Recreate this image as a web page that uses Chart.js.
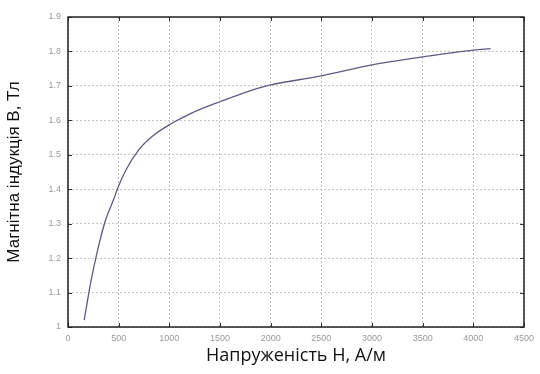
<!DOCTYPE html>
<html>
<head>
<meta charset="utf-8">
<script src="https://cdn.jsdelivr.net/npm/chart.js@4"></script>
<style>
  html, body { margin: 0; padding: 0; background: #fff; }
  #wrap { width: 540px; height: 374px; }
</style>
</head>
<body>
<div id="wrap"><canvas id="id_grafica"></canvas></div>
<script>
// крива намагнічування B(H), значення зчитані з рисунку
const napruzhenist = [160, 225, 290, 370, 450, 500, 580, 700, 830, 1000, 1220, 1500, 1870, 2000, 2500, 3000, 3500, 4000, 4170];
const indukcia = [1.02, 1.13, 1.22, 1.31, 1.37, 1.41, 1.46, 1.515, 1.553, 1.587, 1.621, 1.654, 1.693, 1.703, 1.729, 1.761, 1.784, 1.804, 1.808];

const xMin = 0, xMax = 4500, xStep = 500;
const yMin = 1, yMax = 1.9, yStep = 0.1;

const tituloX = 'Напруженість Н, А/м';
const tituloY = 'Магнітна індукція В, Тл';

const puntos = napruzhenist.map((h, i) => ({ x: h, y: indukcia[i] }));

// рамка та внутрішні штрихи в стилі matlab
const marcoPlugin = {
    id: 'marco',
    afterDraw(chart) {
        const { ctx, chartArea: a, scales } = chart;
        ctx.save();
        ctx.strokeStyle = '#333';
        ctx.lineWidth = 1;
        for (let v = xMin; v <= xMax; v += xStep) {
            const px = Math.round(scales.x.getPixelForValue(v)) + 0.5;
            ctx.beginPath();
            ctx.moveTo(px, a.bottom); ctx.lineTo(px, a.bottom - 4);
            ctx.moveTo(px, a.top); ctx.lineTo(px, a.top + 4);
            ctx.stroke();
        }
        for (let i = 0; i <= 9; i++) {
            const py = Math.round(scales.y.getPixelForValue(yMin + i * yStep)) + 0.5;
            ctx.beginPath();
            ctx.moveTo(a.left, py); ctx.lineTo(a.left + 4, py);
            ctx.moveTo(a.right, py); ctx.lineTo(a.right - 4, py);
            ctx.stroke();
        }
        ctx.lineWidth = 1.5;
        ctx.strokeStyle = '#222';
        ctx.strokeRect(a.left, a.top, a.right - a.left, a.bottom - a.top);
        ctx.restore();
    }
};

let ctx1 = document.getElementById('id_grafica').getContext('2d');
let chart1 = new Chart(ctx1, {
    type: 'scatter',
    data: {
        datasets: [{
            data: puntos,
            showLine: true,
            borderColor: '#5c5c84',
            borderWidth: 1.3,
            pointRadius: 0,
            cubicInterpolationMode: 'monotone'
        }]
    },
    options: {
        responsive: true,
        maintainAspectRatio: false,
        animation: false,
        layout: { padding: { top: 17, right: 10, left: 0, bottom: 0 } },
        plugins: { legend: { display: false }, tooltip: { enabled: false } },
        scales: {
            x: {
                type: 'linear',
                min: xMin, max: xMax,
                afterFit: (s) => { s.height = 47; },
                ticks: {
                    stepSize: xStep, color: '#999', padding: 6, maxRotation: 0,
                    font: { family: 'Liberation Sans', size: 9 },
                    callback: (v) => String(v)
                },
                grid: { color: '#c4c4c4', drawTicks: false },
                border: { display: false, dash: [2, 2] },
                title: { display: true, text: tituloX, color: '#111', font: { family: 'Open Sans', size: 18 }, padding: { top: 2, bottom: 7 } }
            },
            y: {
                type: 'linear',
                min: yMin, max: yMax,
                afterFit: (s) => { s.width = 68; },
                ticks: {
                    stepSize: yStep, color: '#999', padding: 7,
                    font: { family: 'Liberation Sans', size: 9 },
                    callback: (v) => String(Math.round(v * 10) / 10)
                },
                grid: { color: '#c4c4c4', drawTicks: false },
                border: { display: false, dash: [2, 2] },
                title: { display: true, text: tituloY, color: '#111', font: { family: 'Liberation Sans', size: 17 }, padding: { top: 4, bottom: 6 } }
            }
        }
    },
    plugins: [marcoPlugin]
});
</script>
</body>
</html>
